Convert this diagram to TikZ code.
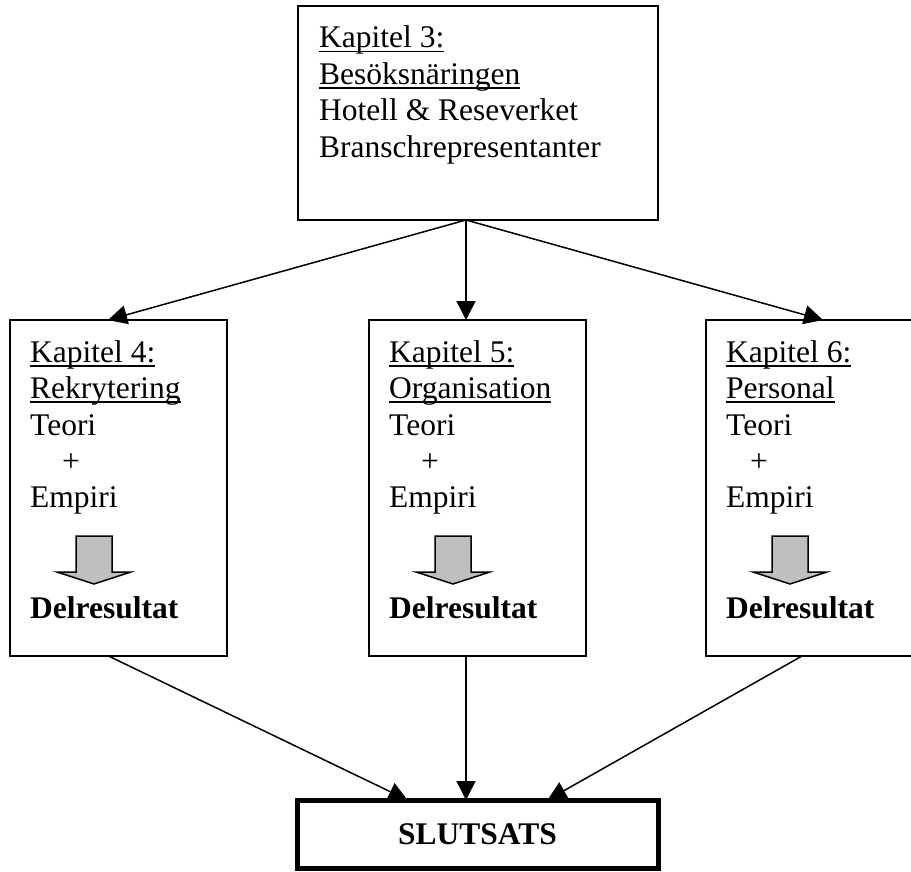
\documentclass[tikz,border=0pt]{standalone}
\usepackage{fontspec}
\setmainfont{Liberation Serif}
\usetikzlibrary{positioning,arrows.meta}

\newcommand{\understrek}[1]{\setbox0\hbox{#1}\rlap{\rule[-4.5pt]{\wd0}{1.6pt}}\box0}

\tikzset{
  kapbox/.style={draw, line width=2pt, inner sep=0pt, outer sep=0pt, anchor=north west,
    minimum width=217pt, minimum height=336pt},
  kaptext/.style={anchor=base west, inner sep=0pt, font=\fontsize{31.5}{36.5}\selectfont},
  pil/.style={line width=1.5pt, -{Triangle[length=19pt,width=19pt]}},
  blockpil/.style={draw, line width=1.5pt, fill=black!25}
}

\begin{document}
\begin{tikzpicture}[x=1pt, y=-1pt]
  \useasboundingbox (0,0) rectangle (911,872);
  % Boxes
  \node[kapbox, minimum width=360pt, minimum height=214pt] (kap3) at (298,6) {};
  \node[kapbox] (kap4) at (10,320) {};
  \node[kapbox] (kap5) at (369,320) {};
  \node[kapbox] (kap6) at (706,320) {};
  \node[draw, line width=5pt, inner sep=0pt, outer sep=0pt, minimum width=361pt, minimum height=68pt,
    font=\fontsize{31.5}{36.5}\selectfont\bfseries] (slut) at (477.5,834) {SLUTSATS};

  % Texts
  \node[kaptext] (kap3txt) at ([shift={(21,42)}]kap3.north west)
    {\begin{tabular}[t]{@{}l@{}}\understrek{Kapitel 3:}\\ \understrek{Besöksnäringen}\\
     Hotell \& Reseverket\\ Branschrepresentanter\end{tabular}};
  \node[kaptext] (kap4txt) at ([shift={(20,42)}]kap4.north west)
    {\begin{tabular}[t]{@{}l@{}}\understrek{Kapitel 4:}\\ \understrek{Rekrytering}\\
     Teori\\ \hspace{32pt}+\\ Empiri\end{tabular}};
  \node[kaptext] (kap5txt) at ([shift={(20,42)}]kap5.north west)
    {\begin{tabular}[t]{@{}l@{}}\understrek{Kapitel 5:}\\ \understrek{Organisation}\\
     Teori\\ \hspace{32pt}+\\ Empiri\end{tabular}};
  \node[kaptext] (kap6txt) at ([shift={(20,42)}]kap6.north west)
    {\begin{tabular}[t]{@{}l@{}}\understrek{Kapitel 6:}\\ \understrek{Personal}\\
     Teori\\ \hspace{24pt}+\\ Empiri\end{tabular}};
  \node[kaptext] (res4) at ([shift={(20,298)}]kap4.north west) {\textbf{Delresultat}};
  \node[kaptext] (res5) at ([shift={(20,298)}]kap5.north west) {\textbf{Delresultat}};
  \node[kaptext] (res6) at ([shift={(20,298)}]kap6.north west) {\textbf{Delresultat}};

  % Grey arrows
  \draw[blockpil, shift={(kap4.north west)}] (66,216) -- (102,216) -- (102,252) -- (121,252)
    -- (84,264) -- (47,252) -- (66,252) -- cycle;
  \draw[blockpil, shift={(kap5.north west)}] (66,216) -- (102,216) -- (102,252) -- (121,252)
    -- (84,264) -- (47,252) -- (66,252) -- cycle;
  \draw[blockpil, shift={(kap6.north west)}] (66,216) -- (102,216) -- (102,252) -- (121,252)
    -- (84,264) -- (47,252) -- (66,252) -- cycle;

  % Connect the boxes
  \draw[pil] ([xshift=-12pt]kap3.south) -- ([xshift=-10.5pt]kap4.north);
  \draw[pil] ([xshift=-12pt]kap3.south) -- ([xshift=-11.5pt]kap5.north);
  \draw[pil] ([xshift=-12pt]kap3.south) -- ([xshift=8.5pt]kap6.north);
  \draw[pil] ([xshift=-10pt]kap4.south) -- ([xshift=-70pt]slut.north);
  \draw[pil] ([xshift=-11.5pt]kap5.south) -- ([xshift=-11.5pt]slut.north);
  \draw[pil] ([xshift=-12.5pt]kap6.south) -- ([xshift=70pt]slut.north);
\end{tikzpicture}
\end{document}
